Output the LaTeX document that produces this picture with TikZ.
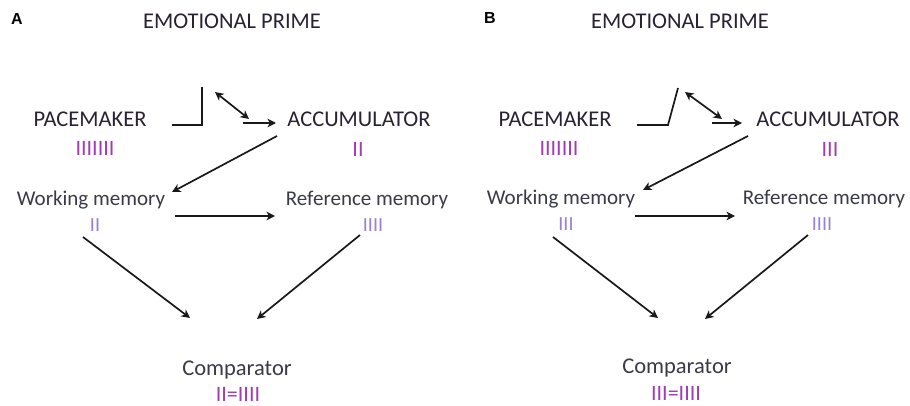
\documentclass[tikz,border=0pt]{standalone}
\usepackage{fontspec}
\setmainfont{Carlito}
\newfontfamily\panelfont{Liberation Sans}
\usetikzlibrary{arrows.meta}
\definecolor{labtxt}{HTML}{2A2233}
\definecolor{memtxt}{HTML}{3A3A48}
\definecolor{barstrong}{HTML}{A23CB4}
\definecolor{barsoft}{HTML}{9B80D2}
\tikzset{
  big/.style={anchor=base, inner sep=0pt, text=labtxt, font=\fontsize{22.5}{24}\selectfont},
  mem/.style={anchor=base, inner sep=0pt, text=memtxt, font=\fontsize{21}{23}\selectfont},
  cmpl/.style={anchor=base, inner sep=0pt, text=memtxt, font=\fontsize{22.5}{24}\selectfont},
  bars/.style={anchor=base, inner sep=0pt, text=barstrong, font=\fontsize{22}{24}\selectfont},
  softbars/.style={anchor=base, inner sep=0pt, text=barsoft, font=\fontsize{20}{22}\selectfont},
  panel/.style={anchor=base, inner sep=0pt, font=\panelfont\bfseries\fontsize{16}{18}\selectfont},
  conn/.style={line width=1.7pt, draw=black!90},
  arr/.style={conn, -{Stealth[length=8.5pt,width=8.5pt,inset=2.5pt]}},
  darr/.style={conn, {Stealth[length=8.5pt,width=8.5pt,inset=2.5pt]}-{Stealth[length=8.5pt,width=8.5pt,inset=2.5pt]}},
}
\begin{document}
\begin{tikzpicture}[x=1pt,y=-1pt]
\useasboundingbox (0,0) rectangle (910,406);
% ---------------- Panel A ----------------
\node[panel] (labA) at (17,25) {A};
\node[big] (epA) at (232,29) {EMOTIONAL PRIME};
\node[big] (pmA) at (90,127) {PACEMAKER};
\node[bars] (pmbA) at (95,156) {IIIIIII};
\node[big] (accA) at (359,127) {ACCUMULATOR};
\node[bars] (accbA) at (358,157) {II};
\node[mem] (wmA) at (91,206) {Working memory};
\node[softbars] (wmbA) at (95,232) {II};
\node[mem] (rmA) at (367,206) {Reference memory};
\node[softbars] (rmbA) at (373,232) {IIII};
\node[cmpl] (cmpA) at (237,375) {Comparator};
\node[bars] (cmpbA) at (238,401) {II=IIII};
\coordinate (swA1) at (172,125);
\coordinate (swA2) at (202,125);
\coordinate (swA3) at (202,87);
\coordinate (dA1) at (215,92);
\coordinate (dA2) at (249,119);
\coordinate (hA1) at (243,123);
\coordinate (hA2) at (276,123);
\coordinate (awA1) at (277,136);
\coordinate (awA2) at (172,192);
\coordinate (wrA1) at (175,216);
\coordinate (wrA2) at (275,216);
\coordinate (wcA1) at (83,237);
\coordinate (wcA2) at (190,318);
\coordinate (rcA1) at (360,235);
\coordinate (rcA2) at (257,319);
\draw[conn] (swA1) -- (swA2) -- (swA3);
\draw[darr] (dA1) -- (dA2);
\draw[arr] (hA1) -- (hA2);
\draw[arr] (awA1) -- (awA2);
\draw[arr] (wrA1) -- (wrA2);
\draw[arr] (wcA1) -- (wcA2);
\draw[arr] (rcA1) -- (rcA2);
% ---------------- Panel B ----------------
\node[panel] (labB) at (490,24) {B};
\node[big] (epB) at (680,29) {EMOTIONAL PRIME};
\node[big] (pmB) at (555,127) {PACEMAKER};
\node[bars] (pmbB) at (559,156) {IIIIIII};
\node[big] (accB) at (828,127) {ACCUMULATOR};
\node[bars] (accbB) at (830,157) {III};
\node[mem] (wmB) at (561,205) {Working memory};
\node[softbars] (wmbB) at (566,230) {III};
\node[mem] (rmB) at (824,205) {Reference memory};
\node[softbars] (rmbB) at (822,230) {IIII};
\node[cmpl] (cmpB) at (677,373) {Comparator};
\node[bars] (cmpbB) at (676,400) {III=IIII};
\coordinate (swB1) at (637,125);
\coordinate (swB2) at (668,125);
\coordinate (swB3) at (678,88);
\coordinate (dB1) at (685,92);
\coordinate (dB2) at (722,119);
\coordinate (hB1) at (712,123);
\coordinate (hB2) at (742,123);
\coordinate (awB1) at (748,136);
\coordinate (awB2) at (643,190);
\coordinate (wrB1) at (635,216);
\coordinate (wrB2) at (735,216);
\coordinate (wcB1) at (553,237);
\coordinate (wcB2) at (658,318);
\coordinate (rcB1) at (808,235);
\coordinate (rcB2) at (705,319);
\draw[conn] (swB1) -- (swB2) -- (swB3);
\draw[darr] (dB1) -- (dB2);
\draw[arr] (hB1) -- (hB2);
\draw[arr] (awB1) -- (awB2);
\draw[arr] (wrB1) -- (wrB2);
\draw[arr] (wcB1) -- (wcB2);
\draw[arr] (rcB1) -- (rcB2);
\end{tikzpicture}
\end{document}
